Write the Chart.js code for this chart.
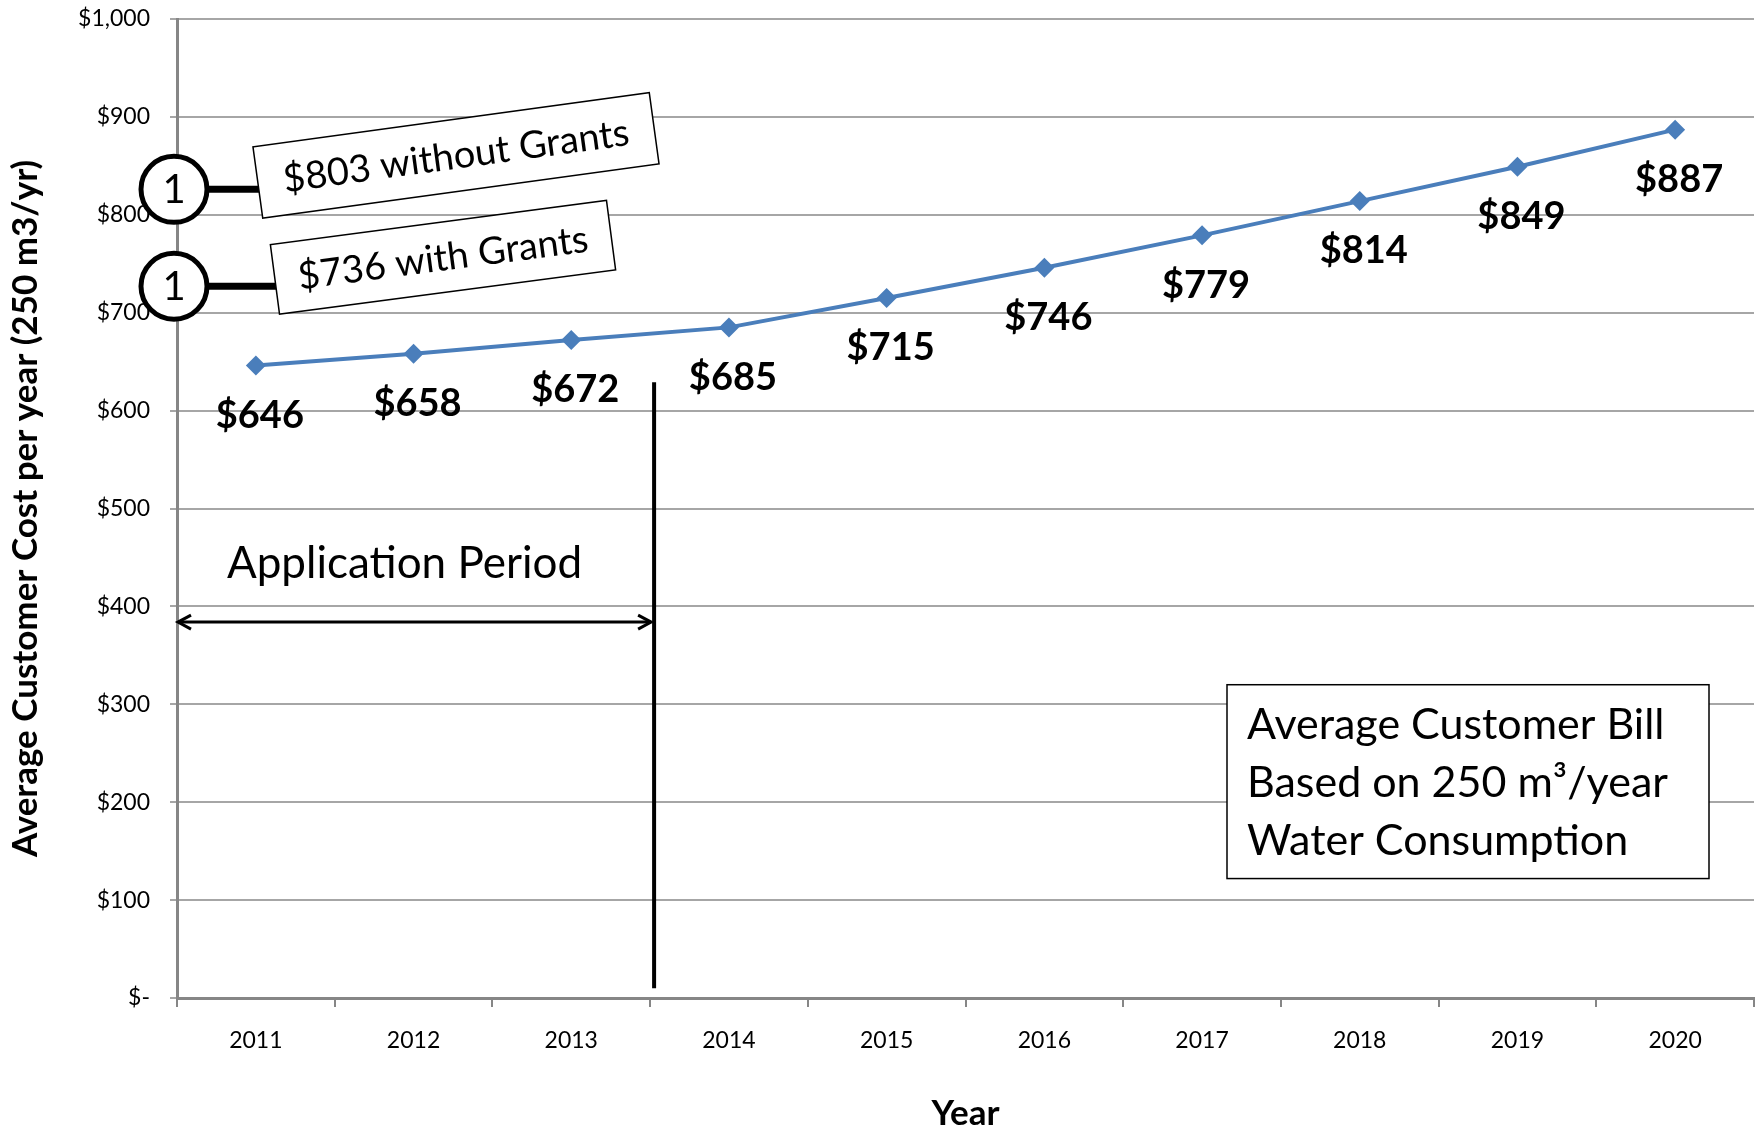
<!DOCTYPE html>
<html>
<head>
<meta charset="utf-8">
<title>Average Customer Cost per Year</title>
<script src="https://cdn.jsdelivr.net/npm/chart.js@4.4.0/dist/chart.umd.min.js"></script>
<style>
  html, body { margin: 0; padding: 0; background: #fff; }
</style>
</head>
<body>
<canvas id="costChart" width="1764" height="1131"></canvas>
<script>
// Chart data
const years = ['2011', '2012', '2013', '2014', '2015', '2016', '2017', '2018', '2019', '2020'];
const avgCost = [646, 658, 672, 685, 715, 746, 779, 814, 849, 887];
const costLabels = ['$646', '$658', '$672', '$685', '$715', '$746', '$779', '$814', '$849', '$887'];
const yTickLabels = ['$-', '$100', '$200', '$300', '$400', '$500', '$600', '$700', '$800', '$900', '$1,000'];

// Annotation texts
const grantNotes = ['$803 without Grants', '$736 with Grants'];
const noteLevels = [826, 727];
const billBoxLines = ['Average Customer Bill', 'Based on 250 m\u00B3/year', 'Water Consumption'];

const FONT = 'Lato, "Liberation Sans", sans-serif';

function line(ctx, x1, y1, x2, y2) {
  ctx.beginPath();
  ctx.moveTo(x1, y1);
  ctx.lineTo(x2, y2);
  ctx.stroke();
}

// Draws the value labels, the application period markers and the text boxes
const annotations = {
  id: 'annotations',
  afterDatasetsDraw(chart) {
    const { ctx, chartArea, scales: { x, y } } = chart;
    ctx.save();

    // value labels under each point
    ctx.fillStyle = '#000';
    ctx.font = 'bold 38px ' + FONT;
    ctx.textAlign = 'center';
    ctx.textBaseline = 'middle';
    chart.getDatasetMeta(0).data.forEach((pt, i) => {
      ctx.fillText(costLabels[i], pt.x + 4, pt.y + 50);
    });

    // vertical divider between 2013 and 2014
    const splitX = (x.getPixelForValue(2) + x.getPixelForValue(3)) / 2 + 4;
    ctx.strokeStyle = '#000';
    ctx.lineWidth = 4;
    line(ctx, splitX, y.getPixelForValue(629), splitX, y.getPixelForValue(10));

    // double arrow for the application period
    const arrowY = y.getPixelForValue(384);
    const x0 = chartArea.left + 1, x1 = splitX - 3;
    ctx.lineWidth = 3;
    line(ctx, x0, arrowY, x1, arrowY);
    ctx.beginPath();
    ctx.moveTo(x0 + 13, arrowY - 7); ctx.lineTo(x0, arrowY); ctx.lineTo(x0 + 13, arrowY + 7);
    ctx.moveTo(x1 - 13, arrowY - 7); ctx.lineTo(x1, arrowY); ctx.lineTo(x1 - 13, arrowY + 7);
    ctx.stroke();

    ctx.font = '44px ' + FONT;
    ctx.textAlign = 'left';
    ctx.fillText('Application Period', chartArea.left + 50, y.getPixelForValue(443));

    // grant notes: circle "1" + connector + rotated box
    const boxes = [
      { dx: 282, dy: -34, w: 400, h: 72, angle: -7.8 },
      { dx: 269, dy: -29, w: 339, h: 70, angle: -7.5 }
    ];
    grantNotes.forEach((txt, i) => {
      const cx = chartArea.left - 3;
      const cy = y.getPixelForValue(noteLevels[i]);
      const b = boxes[i];

      ctx.lineWidth = 7;
      line(ctx, cx + 30, cy, cx + b.dx - b.w / 2 + 10, cy);

      ctx.save();
      ctx.translate(cx + b.dx, cy + b.dy);
      ctx.rotate(b.angle * Math.PI / 180);
      ctx.fillStyle = '#fff';
      ctx.fillRect(-b.w / 2, -b.h / 2, b.w, b.h);
      ctx.lineWidth = 1.5;
      ctx.strokeRect(-b.w / 2, -b.h / 2, b.w, b.h);
      ctx.fillStyle = '#000';
      ctx.font = '38px ' + FONT;
      ctx.textAlign = 'center';
      ctx.fillText(txt, 0, 1);
      ctx.restore();

      ctx.beginPath();
      ctx.arc(cx, cy, 33, 0, Math.PI * 2);
      ctx.fillStyle = '#fff';
      ctx.fill();
      ctx.lineWidth = 5;
      ctx.stroke();
      ctx.fillStyle = '#000';
      ctx.font = '40px ' + FONT;
      ctx.textAlign = 'center';
      ctx.fillText('1', cx, cy + 1);
    });

    // bill description box
    const bx = chartArea.right - 527, by = y.getPixelForValue(320);
    const bw = 482, bh = y.getPixelForValue(122) - by;
    ctx.fillStyle = '#fff';
    ctx.fillRect(bx, by, bw, bh);
    ctx.lineWidth = 1.5;
    ctx.strokeRect(bx, by, bw, bh);
    ctx.fillStyle = '#000';
    ctx.font = '43px ' + FONT;
    ctx.textAlign = 'left';
    billBoxLines.forEach((t, i) => ctx.fillText(t, bx + 20, by + 40 + i * 58));

    ctx.restore();
  }
};

const costChartContext = document.getElementById('costChart').getContext('2d');

new Chart(costChartContext, {
  type: 'line',
  data: {
    labels: years,
    datasets: [{
      label: 'Average Customer Cost',
      data: avgCost,
      borderColor: '#4A7EBB',
      backgroundColor: '#4A7EBB',
      borderWidth: 4,
      pointStyle: 'rectRot',
      pointRadius: 10,
      pointBackgroundColor: '#4A7EBB',
      pointBorderWidth: 0,
      tension: 0,
      fill: false
    }]
  },
  options: {
    responsive: false,
    animation: false,
    devicePixelRatio: 1,
    layout: { padding: { top: 19, right: 6, bottom: 0, left: 0 } },
    plugins: {
      legend: { display: false },
      tooltip: { enabled: false }
    },
    scales: {
      x: {
        offset: true,
        grid: { drawOnChartArea: false, drawTicks: true, tickLength: 9, color: '#868686', lineWidth: 2, offset: true },
        border: { color: '#868686', width: 3 },
        ticks: { color: '#000', font: { family: FONT, size: 23 }, padding: 20 },
        title: {
          display: true,
          text: 'Year',
          color: '#000',
          font: { family: FONT, size: 35, weight: 'bold', lineHeight: 1 },
          padding: { top: 0, bottom: 0 }
        },
        afterFit(scale) {
          scale.height = 133;
          scale.paddingLeft = 0;
          scale.paddingRight = 0;
        }
      },
      y: {
        min: 0,
        max: 1000,
        grid: { color: '#a6a6a6', lineWidth: 2, tickLength: 7 },
        border: { color: '#868686', width: 3 },
        ticks: {
          stepSize: 100,
          color: '#000',
          font: { family: FONT, size: 23 },
          padding: 20,
          callback: (v) => yTickLabels[Math.round(v / 100)]
        },
        title: {
          display: true,
          text: 'Average Customer Cost per year (250 m3/yr)',
          color: '#000',
          font: { family: FONT, size: 35, weight: 'bold', lineHeight: 1 },
          padding: { top: 8, bottom: 0 }
        },
        afterFit(scale) {
          scale.width = 177;
          scale.paddingTop = 0;
          scale.paddingBottom = 0;
        }
      }
    }
  },
  plugins: [annotations]
});
</script>
</body>
</html>
